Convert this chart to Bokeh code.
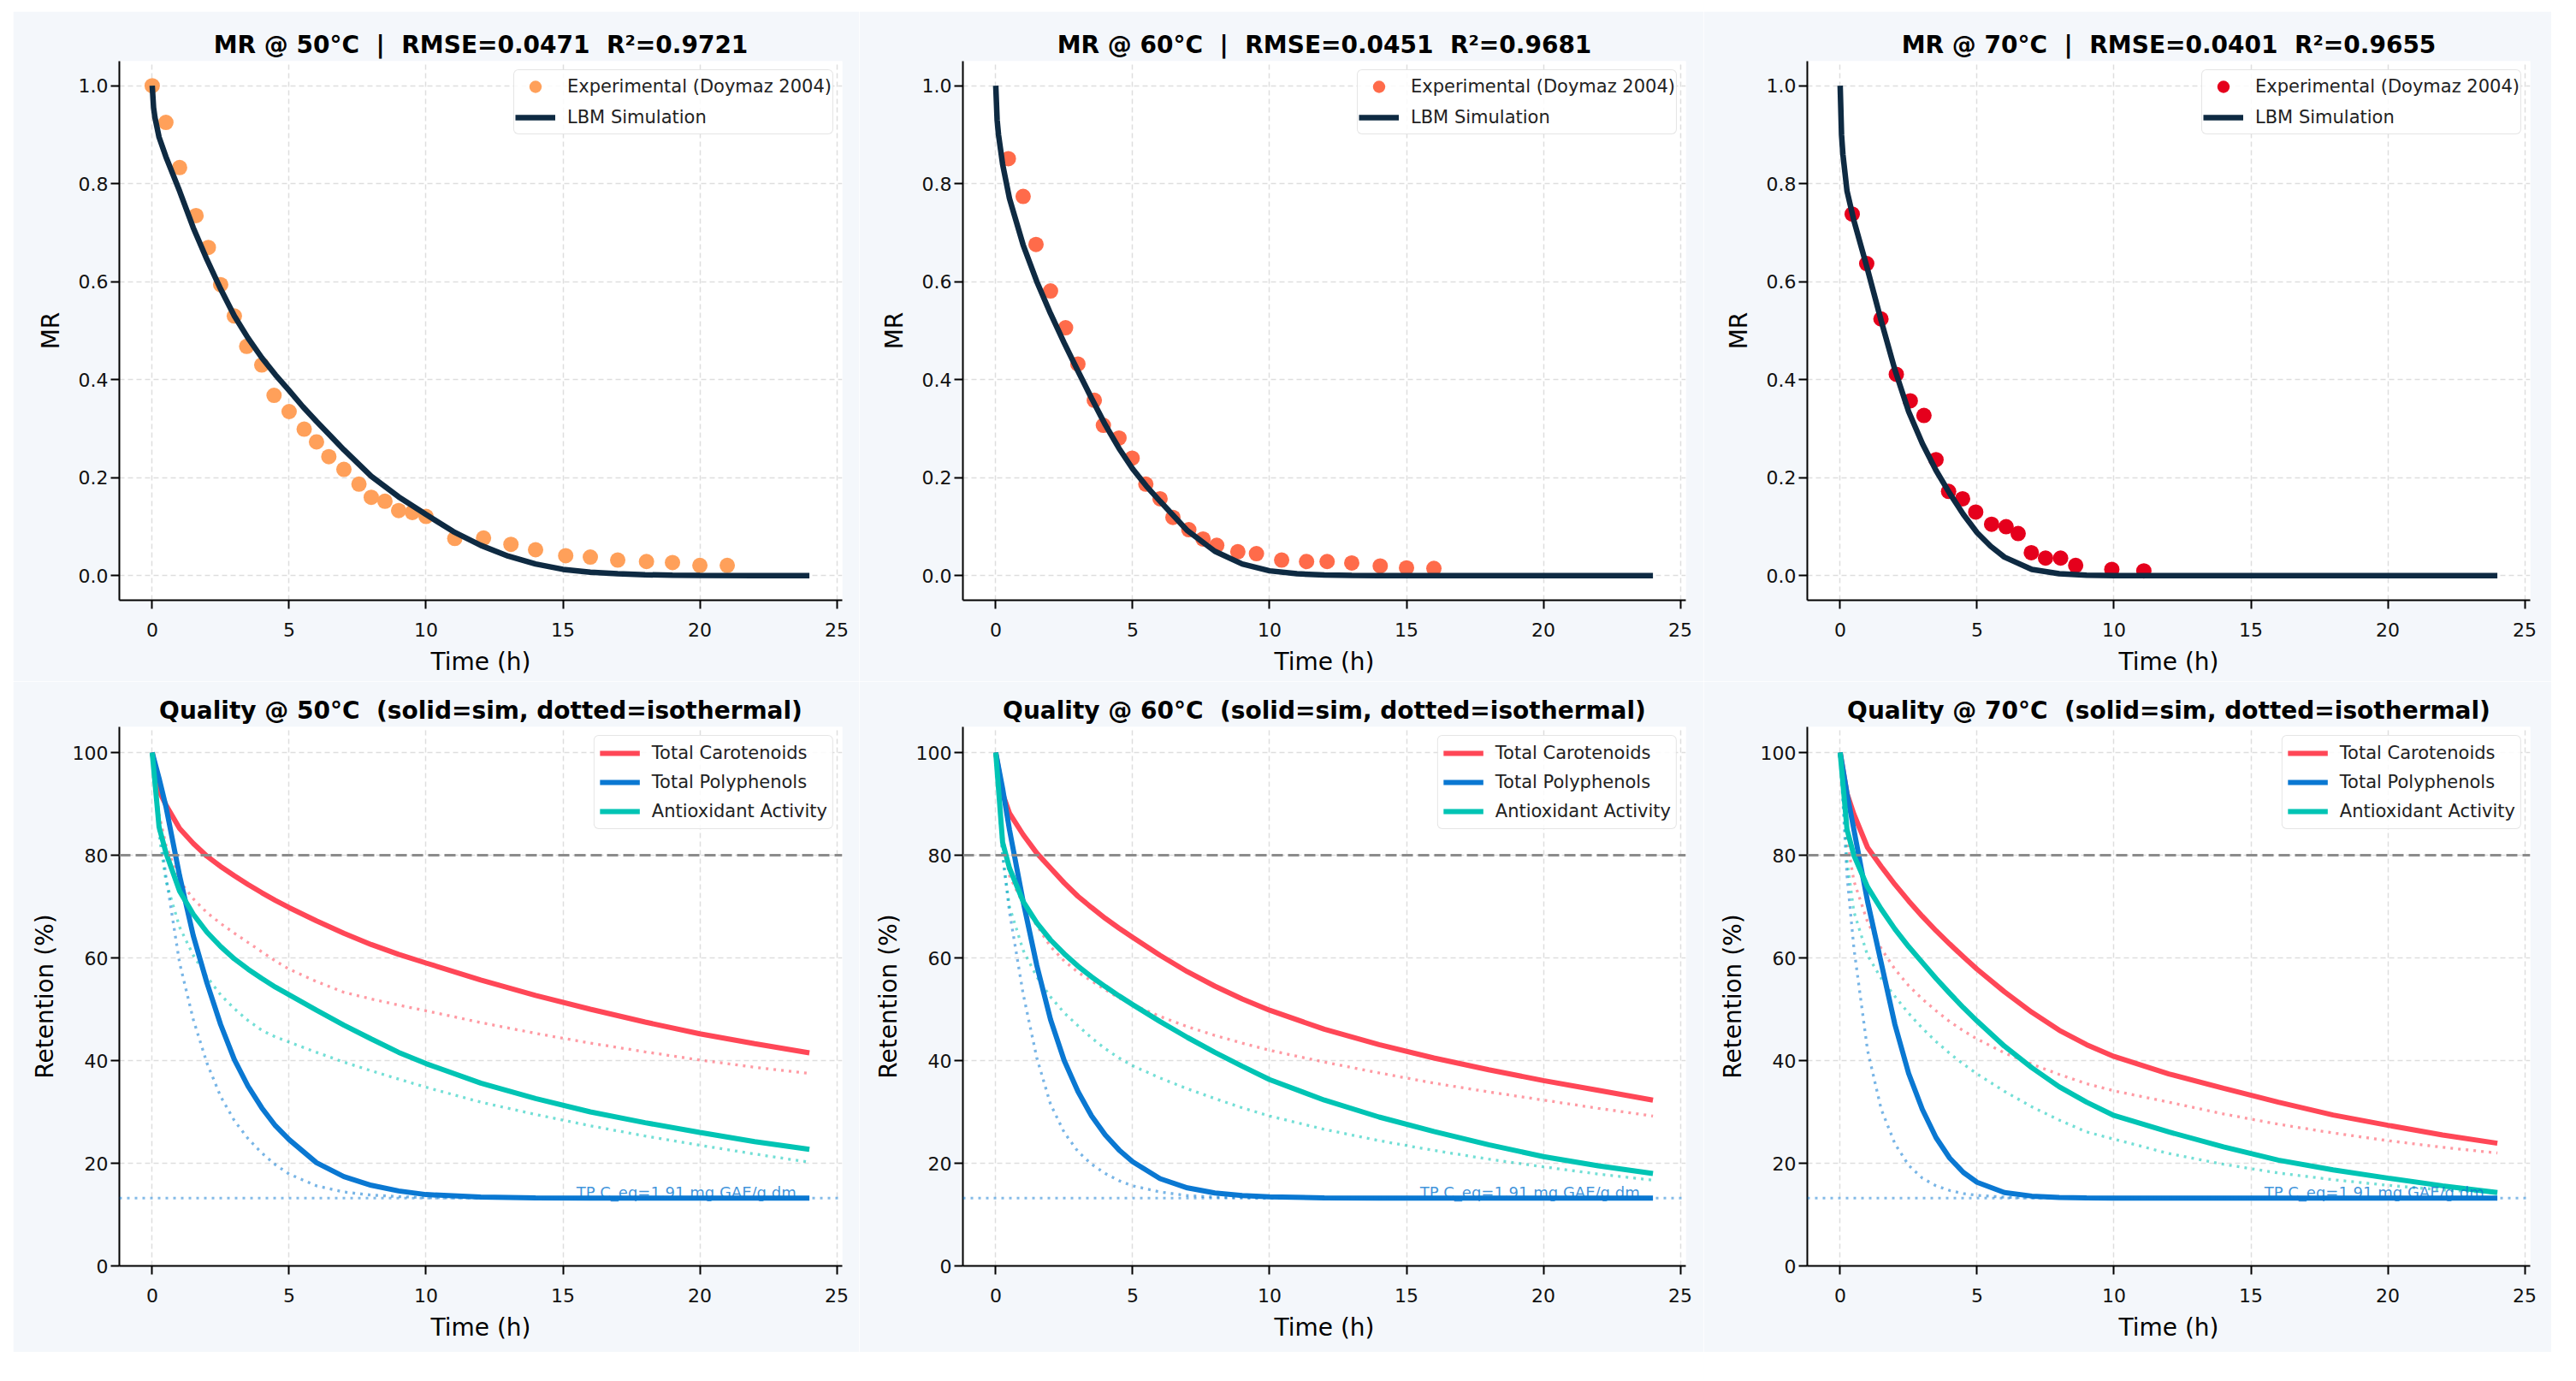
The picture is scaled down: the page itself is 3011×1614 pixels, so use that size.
from bokeh.plotting import figure
from bokeh.layouts import row, column
from bokeh.models import Range1d, FixedTicker, PrintfTickFormatter, Span, Label, Legend
from bokeh.embed import file_html
from bokeh.resources import INLINE

# ---------------- data ----------------
TEMPS = [50, 60, 70]
RMSE = [0.0471, 0.0451, 0.0401]
R2 = [0.9721, 0.9681, 0.9655]

T_EXP_50 = [0, 0.5, 1.0, 1.6, 2.05, 2.5, 3.0, 3.45, 4.0, 4.45, 5.0, 5.55, 6.0, 6.45, 7.0, 7.55,
            8.0, 8.5, 9.0, 9.5, 10.0, 11.05, 12.1, 13.1, 14.0, 15.1, 16.0, 17.0, 18.05, 19.0, 20.0, 21.0]
MR_EXP_50 = [1.0, 0.925, 0.833, 0.735, 0.670, 0.594, 0.530, 0.468, 0.430, 0.368, 0.335, 0.299, 0.273,
             0.243, 0.217, 0.187, 0.160, 0.152, 0.133, 0.129, 0.121, 0.076, 0.077, 0.064, 0.053, 0.041,
             0.038, 0.032, 0.029, 0.027, 0.021, 0.021]
T_EXP_60 = [0.46, 1.0, 1.47, 2.0, 2.55, 3.0, 3.6, 3.93, 4.5, 4.98, 5.48, 6.0, 6.47, 7.05, 7.57, 8.07,
            8.84, 9.52, 10.44, 11.35, 12.1, 13.0, 14.04, 15.0, 16.0]
MR_EXP_60 = [0.851, 0.774, 0.676, 0.581, 0.506, 0.432, 0.358, 0.307, 0.281, 0.240, 0.187, 0.157, 0.119,
             0.094, 0.075, 0.062, 0.049, 0.045, 0.032, 0.029, 0.029, 0.026, 0.020, 0.016, 0.015]
T_EXP_70 = [0.44, 0.97, 1.49, 2.05, 2.56, 3.06, 3.5, 3.96, 4.47, 4.95, 5.53, 6.06, 6.5, 6.98, 7.5,
            8.05, 8.6, 9.92, 11.09]
MR_EXP_70 = [0.738, 0.637, 0.524, 0.411, 0.357, 0.327, 0.237, 0.172, 0.157, 0.130, 0.105, 0.100, 0.086,
             0.047, 0.036, 0.036, 0.021, 0.013, 0.010]

T_SIM = [0, 0.05, 0.1, 0.25, 0.5, 1, 1.5, 2, 2.5, 3, 3.5, 4, 4.5, 5, 5.5, 6, 7, 8, 9, 10, 11, 12,
         13, 14, 15, 16, 17, 18, 19, 20, 22, 24]
MR_SIM_50 = [1.0, 0.955, 0.935, 0.895, 0.855, 0.785, 0.71, 0.645, 0.585, 0.53, 0.485, 0.445, 0.41,
             0.378, 0.345, 0.315, 0.257, 0.203, 0.161, 0.125, 0.09, 0.062, 0.04, 0.024, 0.013, 0.007,
             0.004, 0.002, 0.001, 0.0005, 0.0, 0.0]
MR_SIM_60 = [1.0, 0.93, 0.9, 0.84, 0.77, 0.675, 0.6, 0.535, 0.475, 0.418, 0.362, 0.308, 0.26, 0.218,
             0.183, 0.152, 0.092, 0.05, 0.024, 0.01, 0.004, 0.0015, 0.0005, 0.0, 0.0, 0.0, 0.0, 0.0,
             0.0, 0.0, 0.0, 0.0]
MR_SIM_70 = [1.0, 0.9, 0.86, 0.785, 0.725, 0.625, 0.52, 0.42, 0.335, 0.27, 0.215, 0.168, 0.125, 0.088,
             0.06, 0.038, 0.013, 0.004, 0.001, 0.0, 0.0, 0.0, 0.0, 0.0, 0.0, 0.0, 0.0, 0.0, 0.0, 0.0,
             0.0, 0.0]

T_Q = [0, 0.25, 0.5, 1, 1.5, 2, 2.5, 3, 3.5, 4, 4.5, 5, 6, 7, 8, 9, 10, 12, 14, 16, 18, 20, 22, 24]
TC_SIM_50 = [100, 92.5, 89.8, 85.2, 82.3, 79.8, 77.8, 76.0, 74.3, 72.7, 71.2, 69.8, 67.2, 64.8, 62.6,
             60.7, 59.0, 55.7, 52.7, 50.0, 47.5, 45.2, 43.3, 41.5]
TC_ISO_50 = [100, 88, 82, 75, 71.5, 68.8, 66.7, 64.8, 63, 61.2, 59.4, 57.8, 55.4, 53.3, 52.0, 50.8,
             49.7, 47.4, 45.3, 43.4, 41.7, 40.1, 38.7, 37.5]
TP_SIM_50 = [100, 95, 89.5, 76, 64.3, 55.1, 47, 40.2, 35, 30.8, 27.3, 24.6, 20.1, 17.4, 15.7, 14.6,
             13.9, 13.4, 13.25, 13.2, 13.2, 13.2, 13.2, 13.2]
TP_ISO_50 = [100, 86, 76, 59, 48, 39.5, 33, 28.3, 24.8, 22, 19.7, 17.9, 15.6, 14.4, 13.8, 13.5, 13.3,
             13.2, 13.2, 13.2, 13.2, 13.2, 13.2, 13.2]
AA_SIM_50 = [100, 85.5, 80.5, 73, 68.5, 65, 62.2, 59.8, 57.8, 56, 54.3, 52.8, 49.8, 46.9, 44.2, 41.6,
             39.4, 35.6, 32.6, 30.0, 27.9, 26.0, 24.2, 22.7]
AA_ISO_50 = [100, 84, 75, 66, 60.5, 56.3, 52.8, 50.1, 47.8, 45.9, 44.6, 43.6, 41.6, 39.7, 38.0, 36.4,
             34.8, 31.9, 29.5, 27.3, 25.3, 23.5, 21.8, 20.2]

TC_SIM_60 = [100, 92, 88.2, 84, 80.4, 77.5, 74.6, 72.0, 69.8, 67.7, 65.8, 64.0, 60.5, 57.3, 54.5, 52.0,
             49.8, 46.1, 43.1, 40.5, 38.2, 36.1, 34.2, 32.3]
TC_ISO_60 = [100, 84, 76, 70.5, 66.3, 62.2, 59.4, 57.2, 55.5, 53.8, 52.2, 50.9, 48.6, 46.6, 44.9, 43.4,
             42.0, 39.7, 37.6, 35.6, 33.9, 32.3, 30.7, 29.2]
TP_SIM_60 = [100, 93, 85, 71, 58.5, 48, 40, 34, 29.2, 25.5, 22.6, 20.3, 17.0, 15.2, 14.2, 13.7, 13.45,
             13.25, 13.2, 13.2, 13.2, 13.2, 13.2, 13.2]
TP_ISO_60 = [100, 80, 69, 53, 40.5, 31.5, 26, 22.3, 19.8, 18, 16.6, 15.6, 14.4, 13.7, 13.4, 13.3, 13.2,
             13.2, 13.2, 13.2, 13.2, 13.2, 13.2, 13.2]
AA_SIM_60 = [100, 82.5, 77.5, 71, 66.8, 63.5, 60.8, 58.4, 56.3, 54.4, 52.6, 50.9, 47.6, 44.5, 41.6,
             38.9, 36.3, 32.3, 29.0, 26.2, 23.6, 21.3, 19.5, 18.0]
AA_ISO_60 = [100, 80, 70, 61.5, 56.3, 52.4, 49.3, 46.8, 44.4, 42.3, 40.5, 39, 36.6, 34.5, 32.6, 30.8,
             29.2, 26.6, 24.4, 22.5, 20.8, 19.3, 17.9, 16.7]

TC_SIM_70 = [100, 92, 88, 81.5, 77.8, 74.3, 71.1, 68.1, 65.3, 62.7, 60.2, 57.8, 53.4, 49.4, 45.9, 43.1,
             40.8, 37.4, 34.6, 31.9, 29.4, 27.4, 25.5, 23.9]
TC_ISO_70 = [100, 83, 75, 67, 61.8, 57.8, 54.6, 52, 49.7, 47.6, 45.8, 44.2, 41.5, 39.3, 37.3, 35.5,
             34.1, 31.9, 29.6, 27.6, 25.9, 24.4, 23.1, 22.0]
TP_SIM_70 = [100, 92, 85, 71, 59, 47, 37.5, 30.5, 25, 21, 18.2, 16.3, 14.3, 13.6, 13.35, 13.25, 13.2,
             13.2, 13.2, 13.2, 13.2, 13.2, 13.2, 13.2]
TP_ISO_70 = [100, 76, 62, 42, 30.5, 23.8, 19.6, 17.1, 15.6, 14.7, 14.1, 13.75, 13.4, 13.25, 13.2, 13.2,
             13.2, 13.2, 13.2, 13.2, 13.2, 13.2, 13.2, 13.2]
AA_SIM_70 = [100, 85, 80, 73.8, 69.5, 65.6, 62.2, 59.1, 56.0, 53.1, 50.3, 47.7, 42.8, 38.6, 34.9, 31.9,
             29.3, 26.1, 23.2, 20.6, 18.7, 17.1, 15.6, 14.3]
AA_ISO_70 = [100, 79, 69, 60.5, 56, 52.5, 49.2, 46.3, 43.7, 41.4, 39.3, 37.4, 34, 31, 28.4, 26.1, 24.7,
             21.9, 19.8, 18.1, 16.8, 15.7, 14.8, 14.2]

TP_EQ = 13.2            # equilibrium retention of polyphenols (%)
TP_EQ_LABEL = "TP C_eq=1.91 mg GAE/g dm"
THRESHOLD = 80          # quality threshold (%)
T_END = 24

COMPOUNDS = ["Total Carotenoids", "Total Polyphenols", "Antioxidant Activity"]
EXP_COLORS = ["#ffa05a", "#ff6b4a", "#e5001c"]
COMP_COLORS = ["#ff4757", "#0a78d2", "#00c4b4"]
SIM_COLOR = "#0e2a42"
BG = "#f4f7fb"
FONT = "DejaVu Sans"
SP2 = " \u00a0"  # two visible spaces

exp_t = [T_EXP_50, T_EXP_60, T_EXP_70]
exp_mr = [MR_EXP_50, MR_EXP_60, MR_EXP_70]
sim_mr = [MR_SIM_50, MR_SIM_60, MR_SIM_70]
q_sim = [[TC_SIM_50, TP_SIM_50, AA_SIM_50], [TC_SIM_60, TP_SIM_60, AA_SIM_60], [TC_SIM_70, TP_SIM_70, AA_SIM_70]]
q_iso = [[TC_ISO_50, TP_ISO_50, AA_ISO_50], [TC_ISO_60, TP_ISO_60, AA_ISO_60], [TC_ISO_70, TP_ISO_70, AA_ISO_70]]

COL_W = [989, 987, 991]
COL_L = [124, 121, 121]
COL_R = [20, 21, 25]
ROW_H = [783, 784]
ROW_T = [58, 53]
ROW_B = [95, 101]


def make_fig(ci, ri, title, ylabel, yr, yticks, fmt):
    p = figure(width=COL_W[ci], height=ROW_H[ri], output_backend="svg", toolbar_location=None,
               min_border_left=COL_L[ci], min_border_right=COL_R[ci],
               min_border_top=ROW_T[ri], min_border_bottom=ROW_B[ri],
               x_range=Range1d(-1.2, 25.2), y_range=Range1d(*yr),
               background_fill_color="white", border_fill_color=BG)
    p.outline_line_color = None
    p.title.text = title
    p.title.text_font = FONT
    p.title.text_font_size = "28px"
    p.title.text_font_style = "bold"
    p.title.align = "center"
    p.title.text_color = "#000000"
    p.title.standoff = 6
    p.xaxis.ticker = FixedTicker(ticks=[0, 5, 10, 15, 20, 25])
    p.yaxis.ticker = FixedTicker(ticks=yticks)
    p.yaxis.formatter = PrintfTickFormatter(format=fmt)
    p.xaxis.axis_label = "Time (h)"
    p.yaxis.axis_label = ylabel
    for ax in (p.xaxis, p.yaxis):
        ax.axis_line_width = 2
        ax.axis_line_color = "#000000"
        ax.major_tick_line_width = 2
        ax.major_tick_line_color = "#000000"
        ax.major_tick_out = 10
        ax.major_tick_in = 0
        ax.minor_tick_out = 0
        ax.minor_tick_in = 0
        ax.major_label_text_font = FONT
        ax.major_label_text_font_size = "22px"
        ax.major_label_text_color = "#111111"
        ax.axis_label_text_font = FONT
        ax.axis_label_text_font_size = "28px"
        ax.axis_label_text_font_style = "normal"
        ax.axis_label_text_color = "#000000"
    p.xaxis.major_label_standoff = 16
    p.yaxis.major_label_standoff = 3
    p.xaxis.axis_label_standoff = 10
    p.yaxis.axis_label_standoff = 13
    for g in (p.xgrid, p.ygrid):
        g.grid_line_color = "#dedede"
        g.grid_line_dash = "6 4"
        g.grid_line_width = 1.5
    p.xgrid.ticker = p.xaxis.ticker
    p.ygrid.ticker = p.yaxis.ticker
    return p


def style_legend(p, glyph_h, spacing, padding):
    lg = p.legend[0]
    lg.location = "top_right"
    lg.margin = 10
    lg.padding = padding
    lg.spacing = spacing
    lg.label_height = 28
    lg.glyph_height = glyph_h
    lg.glyph_width = 47
    lg.label_standoff = 14
    lg.label_text_font = FONT
    lg.label_text_font_size = "21px"
    lg.label_text_color = "#222222"
    lg.border_line_color = "#cccccc"
    lg.border_line_width = 1.5
    lg.background_fill_color = "white"
    lg.background_fill_alpha = 0.85
    if "border_radius" in Legend.properties():
        lg.border_radius = 6


top = []
bottom = []
for i, T in enumerate(TEMPS):
    title = f"MR @ {T}°C{SP2}|{SP2}RMSE={RMSE[i]:.4f}{SP2}R²={R2[i]:.4f}"
    p = make_fig(i, 0, title, "MR", (-0.05, 1.05), [0, 0.2, 0.4, 0.6, 0.8, 1.0], "%.1f")
    p.scatter(exp_t[i], exp_mr[i], size=18, fill_color=EXP_COLORS[i], line_color=None,
              legend_label="Experimental (Doymaz 2004)")
    p.line(T_SIM, sim_mr[i], line_color=SIM_COLOR, line_width=6.5, legend_label="LBM Simulation")
    style_legend(p, 36, 0, 1)
    top.append(p)

    qtitle = f"Quality @ {T}°C{SP2}(solid=sim, dotted=isothermal)"
    q = make_fig(i, 1, qtitle, "Retention (%)", (0, 105), [0, 20, 40, 60, 80, 100], "%d")
    q.add_layout(Span(location=THRESHOLD, dimension="width", line_color="#8c8c8c",
                      line_dash="13 6", line_width=2.8))
    q.add_layout(Span(location=TP_EQ, dimension="width", line_color=COMP_COLORS[1],
                      line_alpha=0.5, line_dash="3 6", line_width=3))
    for k, name in enumerate(COMPOUNDS):
        q.line(T_Q, q_iso[i][k], line_color=COMP_COLORS[k], line_width=3.3, line_dash="3 6",
               line_alpha=0.55)
    for k, name in enumerate(COMPOUNDS):
        q.line(T_Q, q_sim[i][k], line_color=COMP_COLORS[k], line_width=6, legend_label=name)
    q.add_layout(Label(x=T_END * 0.98, y=TP_EQ, y_offset=7, text=TP_EQ_LABEL,
                       text_align="right", text_baseline="alphabetic", text_font=FONT,
                       text_font_size="18px", text_color=COMP_COLORS[1], text_alpha=0.8))
    style_legend(q, 20, 6, 6)
    bottom.append(q)

layout = column(row(*top, spacing=0), row(*bottom, spacing=0), spacing=0, margin=(13, 0, 0, 15))

open("out.html", "w").write(file_html(layout, INLINE))
